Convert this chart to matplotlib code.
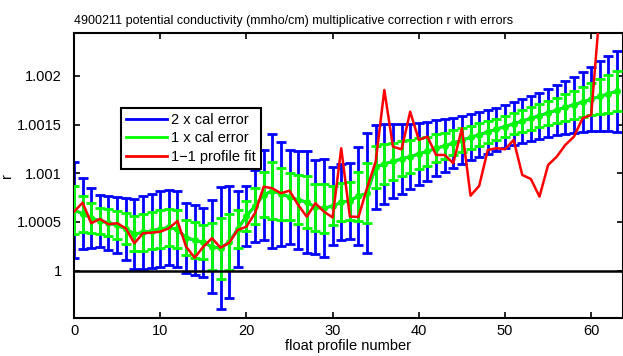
import numpy as np
import matplotlib
matplotlib.use('Agg')
import matplotlib.pyplot as plt
from matplotlib.lines import Line2D

plt.rcParams['font.family'] = ['Liberation Sans', 'DejaVu Sans']

# float profile numbers
profiles = np.arange(64)

# multiplicative correction r (mapped fit) minus 1
r_fit = np.array([
    0.000623, 0.000584, 0.000541, 0.000512, 0.000490, 0.000466, 0.000428, 0.000377,
    0.000392, 0.000408, 0.000428, 0.000444, 0.000423, 0.000336, 0.000315, 0.000290,
    0.000246, 0.000228, 0.000295, 0.000428, 0.000562, 0.000664, 0.000777, 0.000820,
    0.000787, 0.000757, 0.000726, 0.000705, 0.000650, 0.000640, 0.000665, 0.000700,
    0.000720, 0.000765, 0.000795, 0.001065, 0.001095, 0.001121, 0.001147, 0.001172,
    0.001198, 0.001226, 0.001255, 0.001282, 0.001311, 0.001339, 0.001368, 0.001395,
    0.001424, 0.001452, 0.001480, 0.001508, 0.001536, 0.001564, 0.001592, 0.001620,
    0.001648, 0.001677, 0.001704, 0.001732, 0.001761, 0.001789, 0.001816, 0.001844,
]) + 1.0

# 1 x calibration error
cal_err = np.array([
    0.000246, 0.000182, 0.000152, 0.000132, 0.000139, 0.000144, 0.000159, 0.000180,
    0.000185, 0.000190, 0.000193, 0.000193, 0.000195, 0.000180, 0.000180, 0.000175,
    0.000240, 0.000313, 0.000288, 0.000195, 0.000154, 0.000185, 0.000231, 0.000293,
    0.000267, 0.000241, 0.000252, 0.000262, 0.000241, 0.000252, 0.000200, 0.000195,
    0.000195, 0.000252, 0.000308, 0.000216, 0.000205, 0.000190, 0.000180, 0.000169,
    0.000159, 0.000151, 0.000144, 0.000136, 0.000128, 0.000123, 0.000118, 0.000116,
    0.000113, 0.000110, 0.000110, 0.000110, 0.000113, 0.000116, 0.000118, 0.000123,
    0.000128, 0.000136, 0.000144, 0.000154, 0.000164, 0.000180, 0.000193, 0.000208,
])

# 1-1 profile fit (profiles 0..61) minus 1
prof_profiles = np.arange(62)
r_profile = np.array([
    0.000606, 0.000698, 0.000487, 0.000531, 0.000476, 0.000487, 0.000435, 0.000281,
    0.000384, 0.000390, 0.000400, 0.000435, 0.000510, 0.000246, 0.000133, 0.000246,
    0.000333, 0.000236, 0.000287, 0.000418, 0.000452, 0.000592, 0.000862, 0.000846,
    0.000795, 0.000821, 0.000675, 0.000554, 0.000692, 0.000606, 0.000546, 0.001257,
    0.000556, 0.000551, 0.000849, 0.001121, 0.001855, 0.001273, 0.001246, 0.001632,
    0.001342, 0.001376, 0.001188, 0.001188, 0.001103, 0.001462, 0.000770, 0.000870,
    0.001239, 0.001257, 0.001246, 0.001342, 0.000983, 0.000941, 0.000760, 0.001085,
    0.001170, 0.001291, 0.001376, 0.001565, 0.001599, 0.002690,
]) + 1.0

yticks = [1.0, 1.0005, 1.001, 1.0015, 1.002]
ytick_labels = ['1', '1.0005', '1.001', '1.0015', '1.002']

fig = plt.figure(figsize=(6.23, 3.56), dpi=100)
ax = fig.add_axes([0.1188, 0.1059, 0.8804, 0.8006])

ax.errorbar(profiles, r_fit, yerr=2 * cal_err, color=(0, 0, 1), lw=2,
            elinewidth=2, capsize=3.5, capthick=2, zorder=2)
ax.errorbar(profiles, r_fit, yerr=cal_err, color=(0, 1, 0), lw=2,
            elinewidth=2, capsize=3.5, capthick=2, marker='.', ms=8, zorder=3)
ax.plot(prof_profiles, r_profile, color=(1, 0, 0), lw=1.8, zorder=4)
ax.axhline(1.0, color='k', lw=1.8, zorder=5)

ax.set_xlim(0, 63.63)
ax.set_ylim(0.999511, 1.002437)
ax.set_xticks(np.arange(0, 61, 10))
ax.set_yticks(yticks)
ax.set_yticklabels(ytick_labels)
ax.tick_params(direction='in', top=True, right=True, length=4, width=1.2,
               labelsize=10.5)
ax.tick_params(axis='y', pad=9)
ax.tick_params(axis='x', pad=4)
for s in ax.spines.values():
    s.set_linewidth(1.5)

ax.set_xlabel('float profile number', fontsize=10.5, labelpad=1)
ax.set_ylabel('r', fontsize=10.5)
ax.yaxis.set_label_coords((14 - 74) / 548.5, 0.5)
ax.set_title('4900211 potential conductivity (mmho/cm) multiplicative correction r with errors',
             fontsize=9, x=(294 - 74) / 548.5, pad=7)

handles = [Line2D([], [], color=(0, 0, 1), lw=2),
           Line2D([], [], color=(0, 1, 0), lw=2),
           Line2D([], [], color=(1, 0, 0), lw=2)]
leg = ax.legend(handles, ['2 x cal error', '1 x cal error', '1\u22121 profile fit'],
                loc='upper left', bbox_to_anchor=(121 / 623, 1 - 108 / 356),
                bbox_transform=fig.transFigure, fancybox=False, framealpha=1,
                edgecolor='k', fontsize=10.5, handlelength=2.8, handletextpad=0.3,
                borderpad=0.35, labelspacing=0.3, borderaxespad=0)
leg.get_frame().set_linewidth(1.5)

fig.savefig('out.png', dpi=100)
